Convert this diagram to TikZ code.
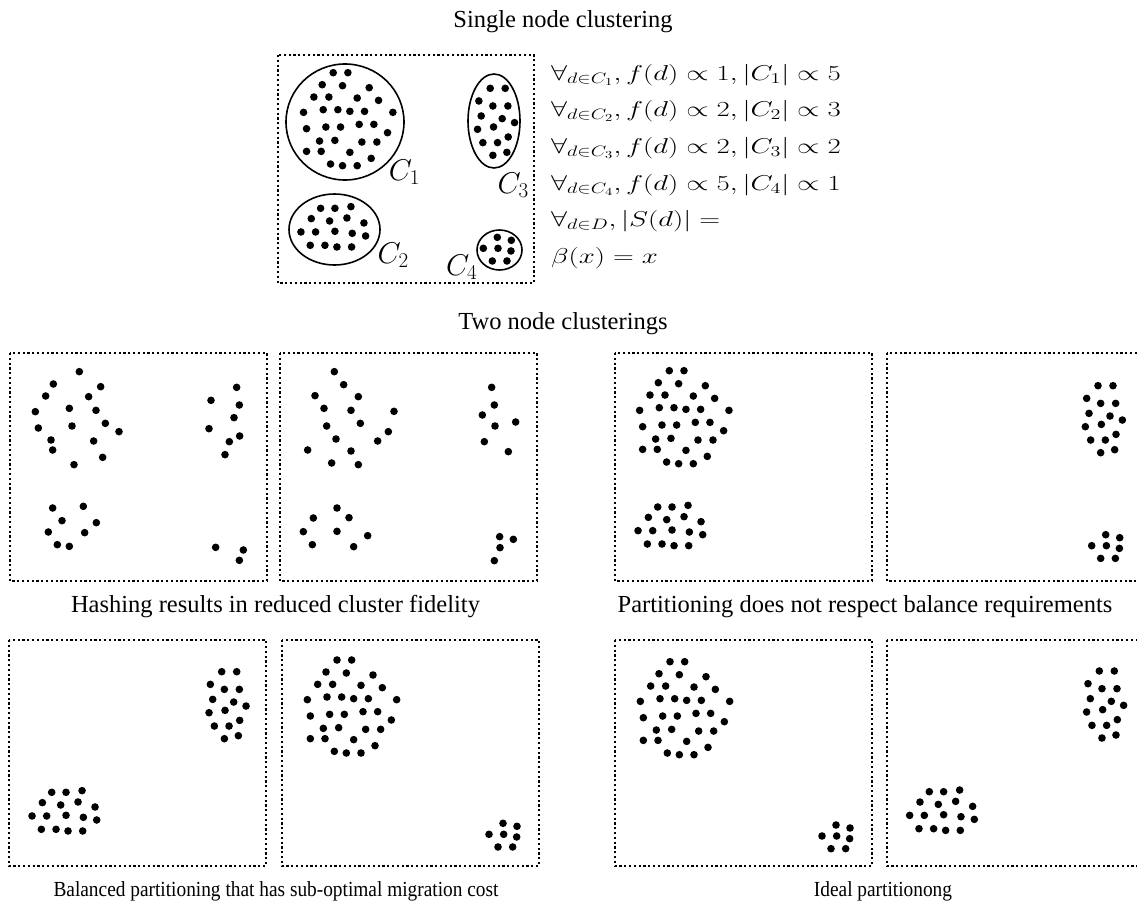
\RequirePackage{fix-cm}
\documentclass[tikz,border=0pt]{standalone}
\usepackage{fontspec}
\setmainfont{Liberation Serif}
\usepackage{graphicx}
\tikzset{
  panel/.style={draw, line width=1.5pt, dash pattern=on 2.2pt off 2.6pt},
  ring/.style={draw, line width=1.6pt},
  lbl/.style={inner sep=0pt, anchor=base west, font=\fontsize{30}{36}\selectfont},
  captxt/.style={inner sep=0pt, anchor=base, font=\fontsize{24.5}{29}\selectfont},
  smallcap/.style={inner sep=0pt, anchor=base, font=\fontsize{21.5}{26}\selectfont},
  fml/.style={inner sep=0pt, anchor=base west, font=\fontsize{21.5}{26}\selectfont},
}
% cluster shapes (offsets in 1/3 px)
\def\shpA{0/0,44/0,-33/36,28/39,108/45,-58/73,-13/73,72/76,136/83,-89/119,-30/111,14/111,50/116,94/116,179/119,-80/168,-22/163,22/163,78/155,122/155,163/180,-41/205,5/203,86/208,131/208,-80/236,-36/236,50/239,114/257,-8/274,28/279,72/279}
\def\shpB{0/0,43/0,91/-5,-28/31,27/38,79/29,130/44,-59/71,-15/71,43/69,95/75,135/83,-31/111,13/111,49/116,93/116}
\def\shpC{0/0,45/0,-34/38,8/53,53/53,-27/83,36/91,73/103,-38/123,10/116,54/146,-22/163,22/163,8/201,50/192}
\def\shpD{0/0,42/9,-42/33,2/33,41/41,-15/71,29/71}
% hashed panels (absolute, 1/3 px from crop origin)
\def\hashA{238/80,160/117,302/125,137/153,266/155,208/190,288/196,106/200,216/243,316/235,115/249,357/260,153/285,281/288,158/315,308/337,222/359,710/127,633/166,718/180,702/218,627/251,719/273,688/290,675/329,158/489,250/484,186/527,289/533,145/561,254/563,172/599,208/604,647/607,730/615,718/646}
\def\hashB{178/80,206/119,120/152,250/155,147/190,228/196,357/199,155/243,256/235,340/260,183/282,308/288,98/315,228/318,170/354,250/359,650/127,658/180,622/210,660/243,722/231,628/290,700/320,186/489,115/519,222/518,85/560,186/559,278/572,112/599,236/605,674/575,715/583,675/608,658/647}
\newcommand\putshape[3]{\foreach \dx/\dy in #1 {\fill ({#2+\dx/3},{#3+\dy/3}) circle[radius=3.8pt];}}
\newcommand\wide[1]{\scalebox{1.34}[1]{#1}}
\begin{document}
\begin{tikzpicture}[x=1pt,y=-1pt]
\useasboundingbox (0,0) rectangle (1137,907);
\begin{scope}
\clip (0,0) rectangle (1137,907);
% ---------- single node clustering ----------
\node[captxt] (title1) at (563,28) {Single node clustering};
\draw[panel] (278,55) rectangle (534,283);
\draw[ring] (345,122) ellipse [x radius=59, y radius=58];
\draw[ring] (494,121) ellipse [x radius=26, y radius=47];
\draw[ring] (334.5,229.5) ellipse [x radius=45.5, y radius=35.5];
\draw[ring] (499.5,250) ellipse [x radius=22.5, y radius=20];
\putshape{\shpA}{333.2}{72.7}
\putshape{\shpB}{320.6}{208.3}
\putshape{\shpC}{490.2}{88.3}
\putshape{\shpD}{497.3}{237.3}
\node[lbl] (l1) at (388.6,180) {$C_1$};
\node[lbl] (l3) at (497.3,193.3) {$C_3$};
\node[lbl] (l2) at (377.5,263.3) {$C_2$};
\node[lbl] (l4) at (445.9,275) {$C_4$};
\node[fml] (f1) at (551,80) {\wide{$\forall_{d\in C_1}, f(d) \propto 1, |C_1| \propto 5$}};
\node[fml] (f2) at (551,116) {\wide{$\forall_{d\in C_2}, f(d) \propto 2, |C_2| \propto 3$}};
\node[fml] (f3) at (551,153) {\wide{$\forall_{d\in C_3}, f(d) \propto 2, |C_3| \propto 2$}};
\node[fml] (f4) at (551,190) {\wide{$\forall_{d\in C_4}, f(d) \propto 5, |C_4| \propto 1$}};
\node[fml] (f5) at (551,226) {\wide{$\forall_{d\in D}, |S(d)| =$}};
\node[fml] (f6) at (551,263) {\wide{$\beta(x) = x$}};
% ---------- two node clusterings ----------
\node[captxt] (title2) at (563,329) {Two node clusterings};
% row 1
\draw[panel] (10,353) rectangle (267,581);
\draw[panel] (280,353) rectangle (537,581);
\draw[panel] (615,353) rectangle (872,581);
\draw[panel] (887,353) rectangle (1144,581);
\putshape{\hashA}{0}{345}
\putshape{\hashB}{275}{345}
\putshape{\shpA}{669.3}{370.7}
\putshape{\shpB}{657.7}{507}
\putshape{\shpC}{1098}{385.7}
\putshape{\shpD}{1105.7}{534.7}
\node[captxt] (cap1) at (275.5,612) {Hashing results in reduced cluster fidelity};
\node[captxt] (cap2) at (865,612) {Partitioning does not respect balance requirements};
% row 2
\draw[panel] (9,640) rectangle (266,866);
\draw[panel] (282,640) rectangle (539,866);
\draw[panel] (615,640) rectangle (872,866);
\draw[panel] (887,640) rectangle (1144,866);
\putshape{\shpC}{221.7}{671.7}
\putshape{\shpB}{51.7}{792.3}
\putshape{\shpA}{337}{660}
\putshape{\shpD}{503}{823.3}
\putshape{\shpA}{670}{661.7}
\putshape{\shpD}{836}{825}
\putshape{\shpC}{1099.3}{671}
\putshape{\shpB}{929.3}{791.7}
\node[smallcap] (cap3) at (276,896) {\scalebox{0.9}[1]{Balanced partitioning that has sub-optimal migration cost}};
\node[smallcap] (cap4) at (883,896) {\scalebox{0.9}[1]{Ideal partitionong}};
\end{scope}
\end{tikzpicture}
\end{document}
